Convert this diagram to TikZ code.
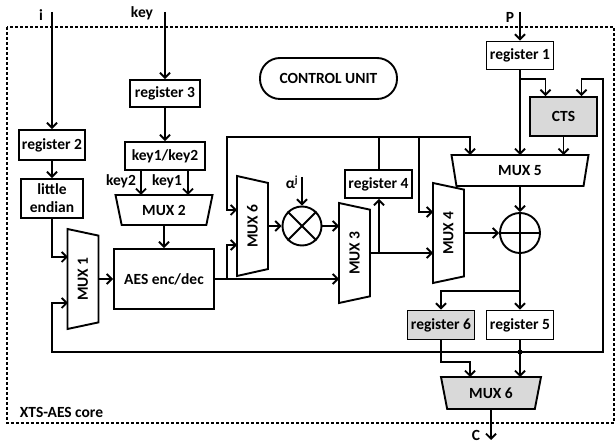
\documentclass[tikz,border=0pt]{standalone}
\usepackage{fontspec}
\setmainfont{Carlito}
\usetikzlibrary{shapes.geometric, arrows.meta}

\begin{document}
\begin{tikzpicture}[x = 1pt, y = -1pt, line width = 1.9pt,
    >= {Straight Barb[length = 5pt, width = 10pt]},
    every node/.style = {font = \bfseries\fontsize{15.5}{18}\selectfont, inner sep = 0pt},
    box/.style = {draw, rectangle, minimum width = 67pt, minimum height = 28pt},
    shaded/.style = {fill = black!15},
    mux/.style = {draw, trapezium, shape border rotate = 180, trapezium stretches body,
        minimum height = 31pt},
    muxv/.style = {mux, rotate = 90, minimum width = 100pt, trapezium angle = 57},
    op/.style = {draw, circle, minimum size = 39pt}]
    \useasboundingbox (0,0) rectangle (616,443);
    \draw[line width = 1.2pt, dash pattern = on 3pt off 2pt] (7,27) rectangle (614,423);
    % blocks
    \node[box] (reg1) at (520,55.5) {register 1};
    \node[box, minimum width = 66pt, minimum height = 30pt] (reg2) at (52,145) {register 2};
    \node[box, minimum width = 62pt, minimum height = 39pt, align = center] (endian) at (52,198.5) {little\\endian};
    \node[box, minimum width = 70pt, minimum height = 27pt] (reg3) at (165,93.5) {register 3};
    \node[box, minimum width = 80pt] (keysel) at (165,156) {key1/key2};
    \node[mux, minimum width = 97pt, minimum height = 30pt, trapezium angle = 59] (mux2) at (164,210) {MUX 2};
    \node[box, minimum width = 100pt, minimum height = 60pt] (aes) at (164,279) {AES enc/dec};
    \node[muxv] (mux1) at (83,279) {MUX 1};
    \node[muxv] (mux6a) at (252.5,226) {MUX 6};
    \node[op] (mul) at (302,226) {};
    \draw (mul.north west) -- (mul.south east) (mul.north east) -- (mul.south west);
    \node[muxv] (mux3) at (354.5,253) {MUX 3};
    \node[box] (reg4) at (378.5,184) {register 4};
    \node[muxv] (mux4) at (448.5,233) {MUX 4};
    \node[op, minimum size = 40pt] (xor) at (520,233) {};
    \draw (xor.north) -- (xor.south) (xor.west) -- (xor.east);
    \node[mux, minimum width = 137pt, trapezium angle = 64] (mux5) at (520,170.5) {MUX 5};
    \node[box, shaded, minimum height = 39pt] (cts) at (563.5,116.5) {CTS};
    \node[box, shaded, minimum height = 29pt] (reg6) at (441,325) {register 6};
    \node[box, minimum height = 29pt] (reg5) at (520,325) {register 5};
    \node[mux, shaded, minimum width = 100pt, minimum height = 32pt, trapezium angle = 60] (mux6b) at (491,393) {MUX 6};
    \node[draw, rounded corners = 20pt, minimum width = 137pt, minimum height = 41pt] (ctrl) at (328.5,78.5) {CONTROL UNIT};
    % labels
    \node (lbli) at (41,15) {i};
    \node (lblkey) at (142,13) {key};
    \node (lblp) at (510,17) {P};
    \node (lblc) at (476,435) {C};
    \node (lblkey2) at (121,181) {key2};
    \node (lblkey1) at (167,181) {key1};
    \node (lblalpha) at (292,182) {α\textsuperscript{j}};
    \node[anchor = west] (lblcore) at (19,412) {XTS-AES core};
    % ports and taps
    \coordinate (iin) at (52,12);
    \coordinate (keyin) at (165,12);
    \coordinate (pin) at (520,12);
    \coordinate (alphain) at (302,177);
    \coordinate (cout) at (491,440);
    \coordinate (m1a) at (68,257);
    \coordinate (m1b) at (68,303);
    \coordinate (m1o) at (98,279);
    \coordinate (m2a) at (141,195);
    \coordinate (m2b) at (188,195);
    \coordinate (m2o) at (164,225);
    \coordinate (m6a) at (237,210);
    \coordinate (m6b) at (237,245);
    \coordinate (m6o) at (268,226);
    \coordinate (m3a) at (339,226);
    \coordinate (m3b) at (339,279);
    \coordinate (m3o) at (370,253);
    \coordinate (m4a) at (433,212);
    \coordinate (m4b) at (433,253);
    \coordinate (m4o) at (464,233);
    \coordinate (m5a) at (470,155);
    \coordinate (m5b) at (520,155);
    \coordinate (m5c) at (563.5,155);
    \coordinate (m5o) at (520,186);
    \coordinate (m7a) at (470,377);
    \coordinate (m7b) at (520,377);
    \coordinate (m7o) at (491,409);
    \coordinate (tap1) at (227,279);
    \coordinate (busl) at (227,137);
    \coordinate (busr) at (470,137);
    \coordinate (tap2) at (419,137);
    \coordinate (tap3) at (379,253);
    \coordinate (tap4) at (520,79);
    \coordinate (tap5) at (520,291);
    \coordinate (bend) at (441,362);
    \coordinate (fb) at (520,352);
    \coordinate (fbl) at (52,303);
    \coordinate (fbr) at (603,79);
    % connectors
    \draw[->] (iin) -- (reg2);
    \draw[->] (reg2) -- (endian);
    \draw[->] (endian) |- (m1a);
    \draw[->] (m1o) -- (aes);
    \draw[->] (keyin) -- (reg3);
    \draw[->] (reg3) -- (keysel);
    \draw[->] (keysel.south -| m2a) -- (m2a);
    \draw[->] (keysel.south -| m2b) -- (m2b);
    \draw[->] (m2o) -- (aes);
    \draw[->] (aes) -- (m3b);
    \draw[->] (tap1) |- (m6b);
    \draw[->] (reg4.north -| tap3) |- (busl) |- (m6a);
    \draw[->] (reg4.north -| tap3) |- (busr) -- (m5a);
    \draw[->] (tap2) |- (m4a);
    \draw[->] (m6o) -- (mul);
    \draw[->] (alphain) -- (mul);
    \draw[->] (mul) -- (m3a);
    \draw[->] (m3o) -- (m4b);
    \draw[->] (tap3) -- (reg4.south -| tap3);
    \draw[->] (m4o) -- (xor);
    \draw[->] (m5o) -- (xor);
    \draw[->] (pin) -- (reg1);
    \draw[->] (reg1) -- (m5b);
    \draw[->] (tap4) -| ([xshift = -18pt]cts.north);
    \draw[->] (cts) -- (m5c);
    \draw[->] (xor) -- (reg5);
    \draw[->] (tap5) -| (reg6);
    \draw[->] (reg6) -- (bend) -| (m7a);
    \draw[->] (reg5) -- (m7b);
    \draw[->] (fb) -| (fbl) -- (m1b);
    \draw[->] (fb) -| (fbr) -| ([xshift = 18pt]cts.north);
    \fill (fb) circle (2.5);
    \draw[->] (m7o) -- (cout);
\end{tikzpicture}
\end{document}
